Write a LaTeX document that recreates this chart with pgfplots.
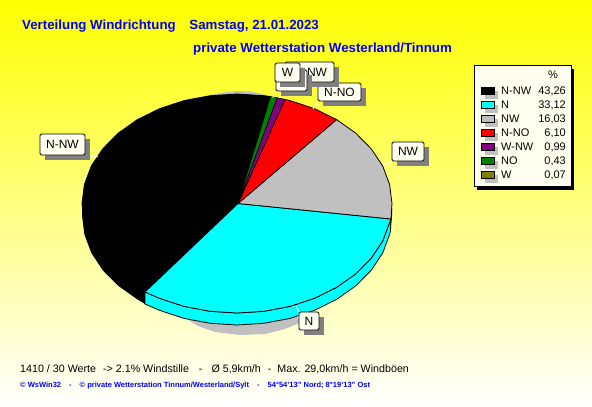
\documentclass[border=0pt]{standalone}
\usepackage{fontspec}
\setmainfont{Liberation Sans}
\usepackage{pgfplots}
\pgfplotsset{compat=1.18}
\definecolor{ttblue}{HTML}{0000FF}
\definecolor{ivory}{HTML}{FFFFF0}
\definecolor{sgrey}{HTML}{808080}
\definecolor{lgrey}{HTML}{C0C0C0}
\definecolor{wcyan}{HTML}{00FFFF}
\definecolor{wred}{HTML}{FF0000}
\definecolor{wnw}{HTML}{800080}
\definecolor{wno}{HTML}{008000}
\definecolor{wolive}{HTML}{808000}

% label box: x1 y1 x2 y2 text
\newcommand{\lab}[5]{%
  \fill[sgrey] (axis cs:#1+5,#2+5) rectangle (axis cs:#3+5,#4+5);
  \draw[black,fill=ivory,line width=0.8pt,rounded corners=1.5pt] (axis cs:#1,#2) rectangle (axis cs:#3,#4);
  \node[font=\fontsize{12}{14}\selectfont,inner sep=0pt] at (axis cs:{(#1+#3)/2},{(#2+#4)/2}) {#5};
}
% legend row: y colour name value
\newcommand{\legrow}[4]{%
  \fill[lgrey] (axis cs:485,#1) rectangle (axis cs:498,#1+8);
  \draw[black,fill=#2,line width=0.8pt] (axis cs:481,#1-3.5) rectangle (axis cs:494,#1+3.5);
  \node[font=\fontsize{11}{13}\selectfont,anchor=west,inner sep=0pt] at (axis cs:501,#1) {#3};
  \node[font=\fontsize{11}{13}\selectfont,anchor=east,inner sep=0pt] at (axis cs:566,#1) {#4};
}

\begin{document}
\begin{tikzpicture}[x=1pt,y=1pt]
\shade[top color=yellow,bottom color=white] (0,0) rectangle (592,407);
\begin{axis}[
  at={(0,0)},anchor=south west,
  scale only axis,width=592pt,height=407pt,
  xmin=0,xmax=592,ymin=0,ymax=407,y dir=reverse,
  hide axis,clip=false]

% shadow under the pie
\addplot[draw=none,fill=lgrey] coordinates {
  (185,318) (198,326) (215,332) (240,335) (265,334) (285,329) (302,322) (290,310) (200,310)
} --cycle;
\addplot[draw=none,fill=lgrey] coordinates {
  (207,96) (220,93) (237,91) (250,91.5) (262,94) (272,97) (240,100)
} --cycle;

% side of the pie
\addplot[draw=none,fill=black] coordinates {
  (82,203.5) (82,215.5) (84.4,234.5) (91.3,253) (102.8,270.3) (118.3,285.9) (137.4,299.4) (145,304) (145,292) (238,203.5)
} --cycle;
\addplot[draw=black,line width=0.8pt,fill=wcyan] coordinates {
  (145,292) (159.5,298.3) (184,306.4) (210.1,311.3) (237,313) (263.9,311.3) (290,306.4) (314.5,298.3)
  (336.6,287.4) (355.7,273.9) (371.2,258.3) (382.7,241) (389.6,222.5) (391,219)
  (390.5,230.7) (389.6,234.5) (382.7,253) (371.2,270.3) (355.7,285.9) (336.6,299.4) (314.5,310.3)
  (290,318.4) (263.9,323.3) (237,325) (210.1,323.3) (184,318.4) (159.5,310.3) (145,304)
} --cycle;
\addplot[draw=none,fill=black] coordinates {
  (392,208) (392,215.5) (390.5,230.7) (390,219)
} --cycle;

% top of the pie
\addplot[draw=black,line width=0.8pt,fill=black] coordinates {
  (238,203.5) (270.5,96.6) (263.9,95.7) (237,94) (210.1,95.7) (184,100.6) (159.5,108.7) (137.4,119.6)
  (118.3,133.1) (102.8,148.8) (91.3,166) (84.4,184.5) (82,203.5) (84.4,222.5) (91.3,241)
  (102.8,258.3) (118.3,273.9) (137.4,287.4) (145,292)
} --cycle;
\addplot[draw=black,line width=0.8pt,fill=wcyan] coordinates {
  (238,203.5) (145,292) (159.5,298.3) (184,306.4) (210.1,311.3) (237,313) (263.9,311.3) (290,306.4)
  (314.5,298.3) (336.6,287.4) (355.7,273.9) (371.2,258.3) (382.7,241) (389.6,222.5) (391,219)
} --cycle;
\addplot[draw=black,line width=0.8pt,fill=lgrey] coordinates {
  (238,203.5) (391,219) (392,203.5) (389.6,184.5) (382.7,166) (371.2,148.8) (355.7,133.1) (336.6,119.6)
} --cycle;
\addplot[draw=black,line width=0.8pt,fill=wred] coordinates {
  (238,203.5) (336.6,119.6) (314.5,108.7) (290,100.6) (284.9,99.4)
} --cycle;
\addplot[draw=black,line width=0.6pt,fill=wnw] coordinates {
  (238,203.5) (284.9,99.4) (277.1,97.7)
} --cycle;
\addplot[draw=black,line width=0.6pt,fill=wno] coordinates {
  (238,203.5) (277.1,97.7) (270.5,96.6)
} --cycle;

% leader lines
\draw[white,line width=0.8pt] (axis cs:85,155) -- (axis cs:98,157);
\draw[white,line width=0.8pt] (axis cs:392,162) -- (axis cs:383,165);
\draw[white,line width=0.8pt] (axis cs:318,103) -- (axis cs:313,109);
\draw[white,line width=0.8pt] (axis cs:299,312) -- (axis cs:296,306);
\draw[white,line width=0.8pt] (axis cs:274,90) -- (axis cs:273,98);
\draw[white,line width=0.8pt] (axis cs:283,92) -- (axis cs:279,98);

% labels
\lab{40}{134}{85}{155}{N-NW}
\lab{299}{312}{319}{330}{N}
\lab{392}{142}{424}{161}{NW}
\lab{318}{83}{361}{101}{N-NO}
\lab{285}{62}{334}{82}{W-NW}
\lab{276}{70}{307}{91}{NO}
\lab{275}{63}{300}{82}{W}

% legend
\fill[black] (axis cs:477,69) rectangle (axis cs:574,190);
\draw[black,fill=ivory,line width=0.8pt] (axis cs:474,65) rectangle (axis cs:571,186);
\node[font=\fontsize{11}{13}\selectfont,inner sep=0pt] at (axis cs:553,75) {\%};
\legrow{91}{black}{N-NW}{43,26}
\legrow{105}{wcyan}{N}{33,12}
\legrow{119}{lgrey}{NW}{16,03}
\legrow{133}{wred}{N-NO}{6,10}
\legrow{147}{wnw}{W-NW}{0,99}
\legrow{161}{wno}{NO}{0,43}
\legrow{175}{wolive}{W}{0,07}

% titles and footer
\node[font=\bfseries\fontsize{13.3}{15}\selectfont,text=ttblue,anchor=west,inner sep=0pt] at (axis cs:22,26) {Verteilung Windrichtung\hspace{10pt} Samstag, 21.01.2023};
\node[font=\bfseries\fontsize{13.3}{15}\selectfont,text=ttblue,anchor=west,inner sep=0pt] at (axis cs:193,49) {private Wetterstation Westerland/Tinnum};
\node[font=\fontsize{10.7}{14}\selectfont,anchor=west,inner sep=0pt] at (axis cs:20,369) {1410 / 30 Werte\hspace{4pt} -> 2.1\% Windstille\hspace{7pt} -\hspace{6pt} Ø 5,9km/h\hspace{4pt} -\hspace{3pt} Max. 29,0km/h = Windböen};
\node[font=\bfseries\fontsize{7.5}{9}\selectfont,text=ttblue,anchor=west,inner sep=0pt] at (axis cs:20,386) {© WsWin32\hspace{0.8em} -\hspace{0.8em} © private Wetterstation Tinnum/Westerland/Sylt\hspace{0.8em} -\hspace{0.8em} 54°54'13'' Nord; 8°19'13'' Ost};
\end{axis}
\end{tikzpicture}
\end{document}
